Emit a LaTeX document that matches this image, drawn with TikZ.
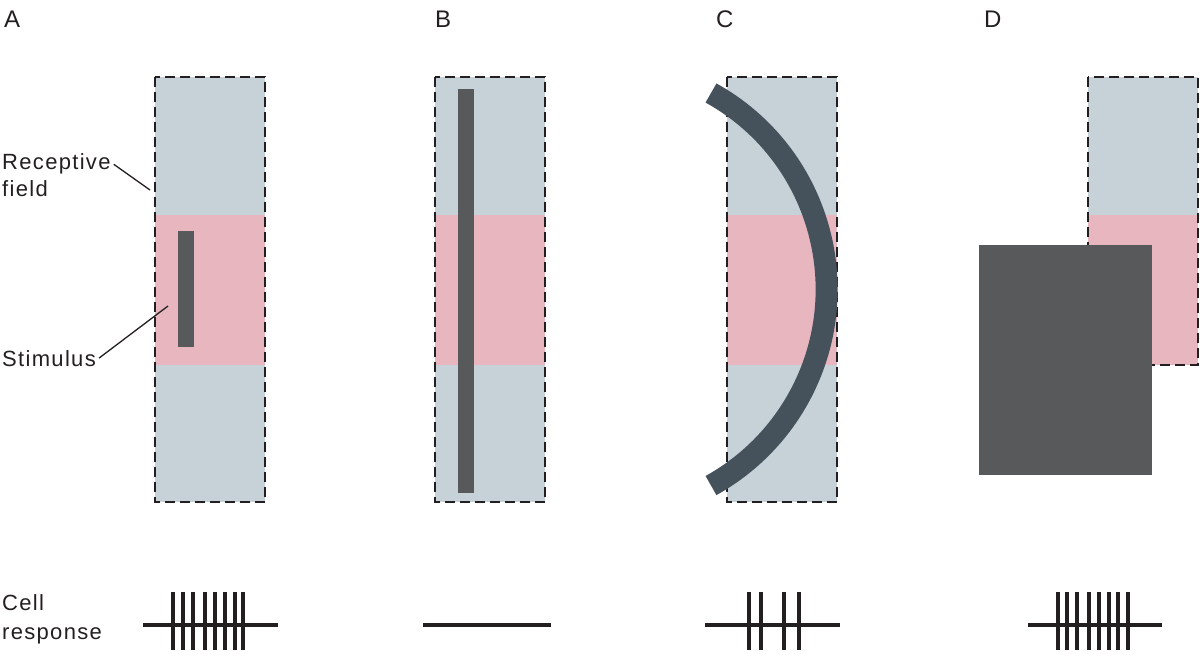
\documentclass[tikz,border=0pt]{standalone}
\usepackage{fontspec}
\setmainfont{Liberation Sans}
\newfontfamily\lblfont[LetterSpace=6]{Liberation Sans}
\usepackage{tikz}
\usetikzlibrary{positioning, calc}

\definecolor{fieldgray}{HTML}{C6D1D8}
\definecolor{fieldpink}{HTML}{E8B6BF}
\definecolor{bargray}{HTML}{58595B}
\definecolor{arcgray}{HTML}{45525B}
\definecolor{inkblack}{HTML}{231F20}

\tikzset{
    rfborder/.style={draw=inkblack, line width=1.8pt, dash pattern=on 10pt off 5pt},
    stimbar/.style={fill=bargray, draw=none},
    panellabel/.style={anchor=base west, inner sep=0pt, font=\lblfont\fontsize{24}{28}\selectfont, text=inkblack},
    txt/.style={anchor=base west, inner sep=3pt, font=\lblfont\fontsize{22}{27}\selectfont, text=inkblack},
    leader/.style={draw=inkblack, line width=1.3pt},
    baseline/.style={draw=inkblack, line width=4pt},
    spike/.style={draw=inkblack, line width=3.5pt}
}

\begin{document}
\begin{tikzpicture}[x=1pt, y=-1pt]
        \useasboundingbox (0,0) rectangle (1200,655);

        % Panel labels
        \node[panellabel] (labA) at (4,28) {A};
        \node[panellabel] (labB) at (435,28) {B};
        \node[panellabel] (labC) at (716,28) {C};
        \node[panellabel] (labD) at (984,28) {D};

        % Receptive fields
        \foreach \x in {155,435,727} {
            \fill[fieldgray] (\x,77) rectangle ++(110,425);
            \fill[fieldpink] (\x,215) rectangle ++(110,150);
            \draw[rfborder] (\x,77) rectangle ++(110,425);
        }
        \fill[fieldgray] (1088,77) rectangle (1198,365);
        \fill[fieldpink] (1088,215) rectangle (1198,365);
        \draw[rfborder] (1088,77) rectangle (1198,365);

        % Stimuli
        \fill[stimbar] (178,231) rectangle (194,347);
        \fill[stimbar] (458,89) rectangle (474,493);
        \draw[arcgray, line width=22pt] (711,93) arc[start angle=-61, end angle=61, radius=224.4];
        \fill[stimbar] (979,245) rectangle (1152,475);

        % Labels with leader lines
        \node[txt] (rftxt) at (-1,170) {Receptive};
        \node[txt] (fieldtxt) at (-1,197) {field};
        \coordinate (rfend) at (150,190);
        \draw[leader] (rftxt.east) -- (rfend);
        \node[txt] (stimtxt) at (-1,366) {Stimulus};
        \coordinate (stimend) at (168,306);
        \draw[leader] (stimtxt.east) -- (stimend);

        % Cell response
        \node[txt] (celltxt) at (-1,610) {Cell};
        \node[txt] (resptxt) at (-1,639) {response};

        % Spike trains
        \coordinate (baseA0) at (143,625);   \coordinate (baseA1) at (278,625);
        \coordinate (baseB0) at (423,625);   \coordinate (baseB1) at (551,625);
        \coordinate (baseC0) at (705,625);   \coordinate (baseC1) at (840,625);
        \coordinate (baseD0) at (1028,625);  \coordinate (baseD1) at (1162,625);
        \foreach \p in {A,B,C,D} {
            \draw[baseline] (base\p0) -- (base\p1);
        }
        \foreach \x in {173,183,193,205,215,225,235,243} {
            \draw[spike] (\x,592) -- (\x,650);
        }
        \foreach \x in {749,761,784,799} {
            \draw[spike] (\x,592) -- (\x,650);
        }
        \foreach \x in {1058,1067,1077,1089,1099,1109,1118,1128} {
            \draw[spike] (\x,592) -- (\x,650);
        }
    \end{tikzpicture}
\end{document}
